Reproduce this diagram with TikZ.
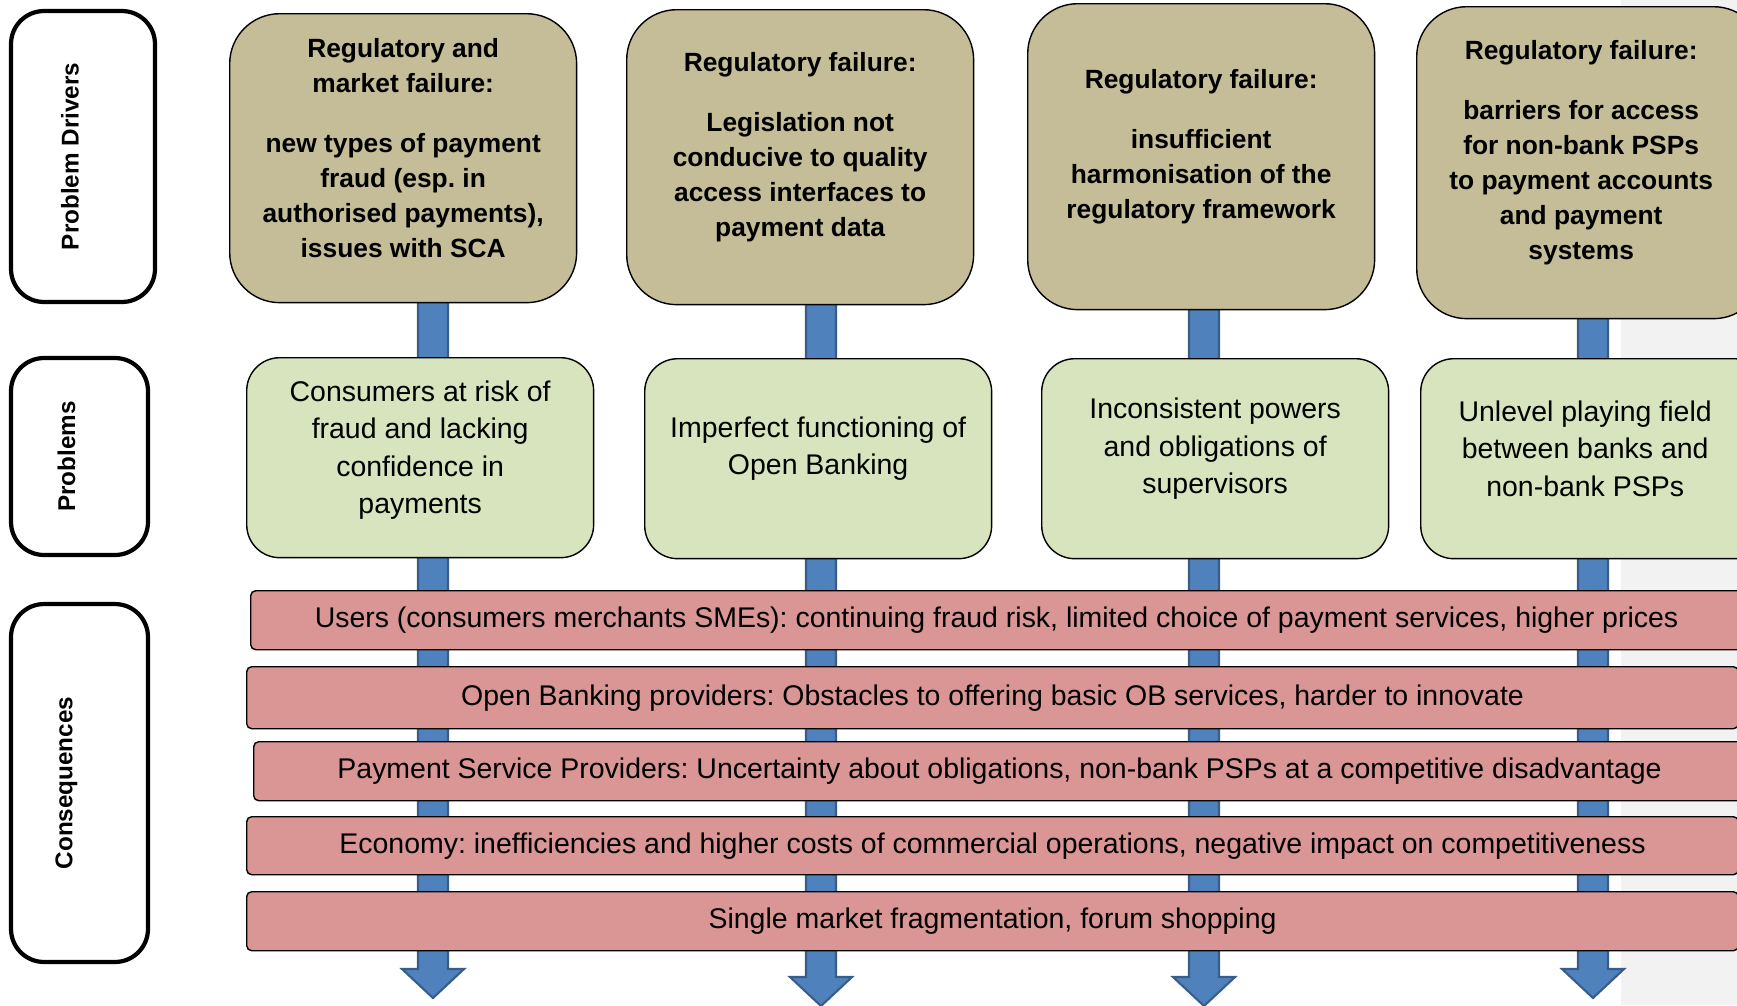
\documentclass[tikz,border=0pt]{standalone}
\usepackage{fontspec}
\setmainfont{Liberation Sans}
\frenchspacing
\usetikzlibrary{calc}
\definecolor{drvtan}{HTML}{C4BD97}
\definecolor{probgreen}{HTML}{D7E4BD}
\definecolor{consred}{HTML}{D99694}
\definecolor{flowblue}{HTML}{4F81BD}
\definecolor{flowedge}{HTML}{385D8A}
\definecolor{margingrey}{HTML}{F2F2F2}
\pgfdeclarelayer{background}
\pgfsetlayers{background,main}
\tikzset{
  side/.style={draw, line width=2.4pt, rounded corners=0.66cm},
  sidetext/.style={rotate=90, font=\fontsize{13.8}{16}\selectfont\bfseries},
  drv/.style={draw, fill=drvtan, rounded corners=1cm, minimum width=6.94cm, anchor=north west},
  drvtext/.style={align=center, font=\fontsize{15}{19.9}\selectfont\bfseries},
  prob/.style={draw, fill=probgreen, rounded corners=0.66cm, minimum width=6.94cm, minimum height=4cm, anchor=north west},
  probtext/.style={align=center, font=\fontsize{16.2}{21.4}\selectfont},
  cons/.style={draw, fill=consred, rounded corners=0.1cm, minimum width=29.84cm, minimum height=1.18cm, anchor=north west, font=\fontsize{16.2}{19}\selectfont},
  flow/.style={fill=flowblue, draw=flowedge, line width=1.2pt}
}

\begin{document}
\begin{tikzpicture}[x=0.02cm, y=-0.02cm, thick]
  \useasboundingbox (0,0) rectangle (1737,1005);
  \clip (0,0) rectangle (1737,1005);
  % Row labels on the left
  \node[side, minimum width=2.88cm, minimum height=5.82cm] (lbldrv) at (83,156.5) {};
  \node[side, minimum width=2.74cm, minimum height=3.94cm] (lblprob) at (79.5,456.5) {};
  \node[side, minimum width=2.74cm, minimum height=7.16cm] (lblcons) at (79.5,783) {};
  \node[sidetext] (lbldrvtxt) at ([xshift=-0.26cm]lbldrv.center) {Problem Drivers};
  \node[sidetext] (lblprobtxt) at ([xshift=-0.26cm]lblprob.center) {Problems};
  \node[sidetext] (lblconstxt) at ([xshift=-0.26cm]lblcons.center) {Consequences};

  % Problem drivers
  \node[drv, minimum height=5.78cm] (drv1) at (229,13) {};
  \node[drv, minimum height=5.90cm] (drv2) at (626,9) {};
  \node[drv, minimum height=6.12cm] (drv3) at (1027,3) {};
  \node[drv, minimum height=6.24cm] (drv4) at (1416,6) {};
  \node[drvtext] (drv1txt) at ([yshift=0.2cm]drv1.center) {Regulatory and\\market failure:\\[14pt]new types of payment\\fraud (esp. in\\authorised payments),\\issues with SCA};
  \node[drvtext] (drv2txt) at ([yshift=0.2cm]drv2.center) {Regulatory failure:\\[14pt]Legislation not\\conducive to quality\\access interfaces to\\payment data};
  \node[drvtext] (drv3txt) at ([yshift=0.2cm]drv3.center) {Regulatory failure:\\[14pt]insufficient\\harmonisation of the\\regulatory framework};
  \node[drvtext] (drv4txt) at ([xshift=-0.18cm, yshift=0.2cm]drv4.center) {Regulatory failure:\\[14pt]barriers for access\\for non-bank PSPs\\to payment accounts\\and payment\\systems};

  % Problems
  \node[prob] (prob1) at (246,357) {};
  \node[prob] (prob2) at (644,358) {};
  \node[prob] (prob3) at (1041,358) {};
  \node[prob] (prob4) at (1420,358) {};
  \node[probtext] (prob1txt) at ([yshift=0.15cm]prob1.center) {Consumers at risk of\\fraud and lacking\\confidence in\\payments};
  \node[probtext] (prob2txt) at ([yshift=0.2cm]prob2.center) {Imperfect functioning of\\Open Banking};
  \node[probtext] (prob3txt) at ([yshift=0.2cm]prob3.center) {Inconsistent powers\\and obligations of\\supervisors};
  \node[probtext] (prob4txt) at ([xshift=-0.18cm, yshift=0.2cm]prob4.center) {Unlevel playing field\\between banks and\\non-bank PSPs};

  % Consequences
  \node[cons] (cons1) at (250,590) {Users (consumers merchants SMEs): continuing fraud risk, limited choice of payment services, higher prices};
  \node[cons, minimum height=1.24cm] (cons2) at (246,666) {Open Banking providers: Obstacles to offering basic OB services, harder to innovate};
  \node[cons] (cons3) at (253,741) {Payment Service Providers: Uncertainty about obligations, non-bank PSPs at a competitive disadvantage};
  \node[cons, minimum height=1.16cm] (cons4) at (246,816) {Economy: inefficiencies and higher costs of commercial operations, negative impact on competitiveness};
  \node[cons] (cons5) at (246,891) {Single market fragmentation, forum shopping};

  % Blue flow arrows behind everything
  \begin{pgfonlayer}{background}
    \fill[margingrey] (1621,0) rectangle (1737,1005);
    \foreach \i/\ax/\ay in {1/433/998, 2/821/1006, 3/1204/1006, 4/1593/998}{
      \coordinate (tip\i) at (\ax,\ay);
      \draw[flow] ($(tip\i |- drv\i.south)+(-15,-10)$) -- ($(tip\i)+(-15,-29)$) -- ($(tip\i)+(-31,-29)$)
        -- (tip\i) -- ($(tip\i)+(31,-29)$) -- ($(tip\i)+(15,-29)$) -- ($(tip\i |- drv\i.south)+(15,-10)$) -- cycle;
    }
  \end{pgfonlayer}
\end{tikzpicture}
\end{document}
